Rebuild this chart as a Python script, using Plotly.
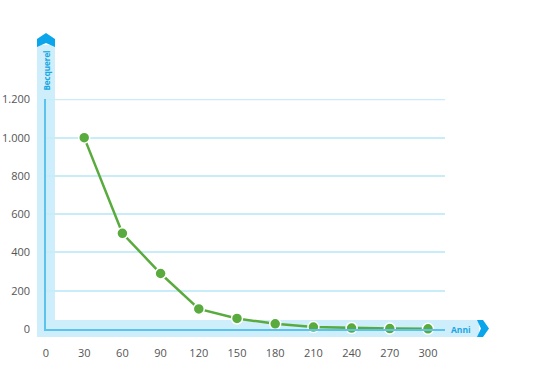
import plotly.graph_objects as go

anni = [30, 60, 90, 120, 150, 180, 210, 240, 270, 300]
becquerel = [1000, 500, 290, 105, 55, 27, 10, 5, 2, 1]
x_ticks = [0, 30, 60, 90, 120, 150, 180, 210, 240, 270, 300]
y_ticks = [0, 200, 400, 600, 800, 1000, 1200]
y_tick_text = ["0", "200", "400", "600", "800", "1.000", "1.200"]

W, H = 535, 392
L, R, T, B = 46, 445, 99, 329  # plot area pixels

def px(x):
    return (x - L) / (R - L)

def py(y):
    return (B - y) / (B - T)

BAND = "#cdeefa"
AXIS = "#5cc3ec"
ARROW = "#0aa5ea"
GREEN = "#5aab3e"
GRID = "#c9ecf9"

fig = go.Figure()
fig.add_trace(go.Scatter(
    x=anni, y=becquerel, mode="lines+markers",
    line=dict(color=GREEN, width=2.5),
    marker=dict(size=11, color=GREEN, line=dict(color="white", width=1.5)),
    cliponaxis=False, showlegend=False,
))

shapes = []
shapes.append(dict(type="rect", xref="paper", yref="paper",
                   x0=px(37), x1=px(55), y0=py(337), y1=py(45),
                   fillcolor=BAND, line=dict(width=0), layer="below"))
shapes.append(dict(type="rect", xref="paper", yref="paper",
                   x0=px(37), x1=px(479), y0=py(337), y1=py(320),
                   fillcolor=BAND, line=dict(width=0), layer="below"))
shapes.append(dict(type="line", xref="paper", yref="y", x0=0, x1=1,
                   y0=y_ticks[-1], y1=y_ticks[-1], line=dict(color=GRID, width=1.5), layer="below"))

def path(points):
    return "M " + " L ".join(f"{px(a):.5f},{py(b):.5f}" for a, b in points) + " Z"

shapes.append(dict(type="path", xref="paper", yref="paper",
                   path=path([(37, 47), (37, 39), (46, 33), (55, 39), (55, 47), (46, 43)]),
                   fillcolor=ARROW, line=dict(width=0), layer="above"))
shapes.append(dict(type="path", xref="paper", yref="paper",
                   path=path([(477, 320), (483, 320), (489, 328.5), (483, 337), (477, 337), (481, 328.5)]),
                   fillcolor=ARROW, line=dict(width=0), layer="above"))

annotations = [
    dict(text="<b>Becquerel</b>", xref="paper", yref="paper", x=px(45.5), y=py(71),
         xanchor="center", yanchor="middle",
         showarrow=False, textangle=-90, font=dict(size=8, color="#1aa6e2", family="Open Sans")),
    dict(text="<b>Anni</b>", xref="paper", yref="paper", x=px(461), y=py(329),
         xanchor="center", yanchor="middle",
         showarrow=False, font=dict(size=8.5, color="#1aa6e2", family="Open Sans")),
]

fig.update_layout(
    width=W, height=H,
    margin=dict(l=L, r=W - R, t=T, b=H - B, pad=0, autoexpand=False),
    paper_bgcolor="white", plot_bgcolor="rgba(0,0,0,0)",
    shapes=shapes, annotations=annotations,
    font=dict(family="Open Sans", size=11, color="#555555"),
    xaxis=dict(range=[0, 300 * (R - L) / 382], tickvals=x_ticks, ticktext=[str(v) for v in x_ticks],
               showgrid=False, zeroline=False, showline=True, linecolor=AXIS, linewidth=1.5,
               ticks="", ticklabelstandoff=13, fixedrange=True, automargin=False),
    yaxis=dict(range=[0, 1202], tickvals=y_ticks, ticktext=y_tick_text,
               showgrid=True, gridcolor=GRID, gridwidth=1.5, zeroline=False,
               showline=True, linecolor=AXIS, linewidth=1.5,
               ticks="", ticklabelstandoff=12, fixedrange=True, automargin=False),
)

fig.write_html("out.html")
